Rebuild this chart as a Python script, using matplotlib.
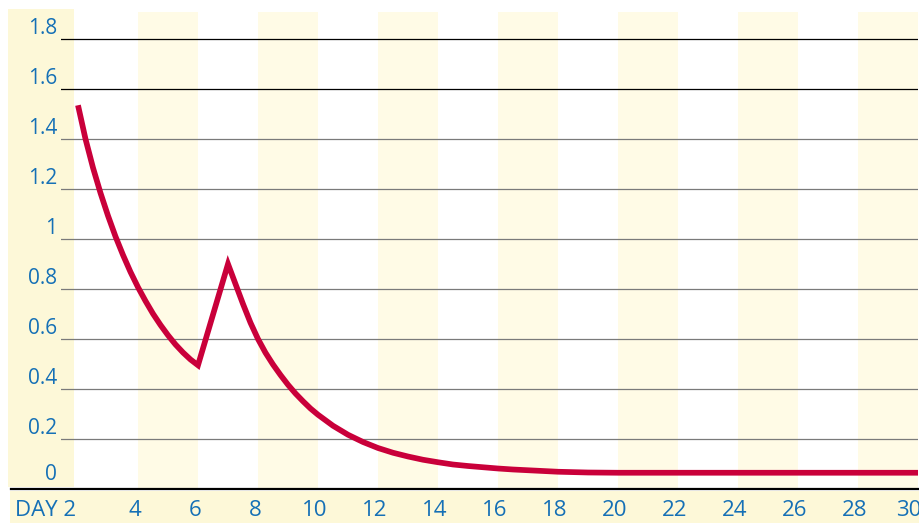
import matplotlib
matplotlib.use("Agg")
import matplotlib.pyplot as plt
from matplotlib.patches import Rectangle

# Dosage curve by day
days = [2, 2.25, 2.5, 2.75, 3, 3.25, 3.5, 3.75, 4, 4.25, 4.5, 4.75, 5, 5.25, 5.5, 5.75, 6,
        7, 7.25, 7.5, 7.75, 8, 8.25, 8.5, 8.75, 9, 9.25, 9.5, 9.75, 10, 10.5, 11, 11.5,
        12, 12.5, 13, 13.5, 14, 14.5, 15, 15.5, 16, 16.5, 17, 17.5, 18, 19, 20,
        22, 24, 26, 28, 30]
level = [1.535, 1.40, 1.285, 1.184, 1.093, 1.010, 0.936, 0.868, 0.807, 0.752, 0.701, 0.656,
         0.615, 0.578, 0.546, 0.518, 0.495,
         0.90, 0.82, 0.74, 0.665, 0.60, 0.545, 0.498, 0.456, 0.417, 0.382, 0.351, 0.322,
         0.297, 0.253, 0.217, 0.188,
         0.164, 0.145, 0.130, 0.117, 0.107, 0.098, 0.092, 0.087, 0.082, 0.078, 0.075,
         0.072, 0.069, 0.066, 0.065,
         0.065, 0.065, 0.065, 0.065, 0.065]

y_ticks = [0, 0.2, 0.4, 0.6, 0.8, 1.0, 1.2, 1.4, 1.6, 1.8]
y_labels = ["0", "0.2", "0.4", "0.6", "0.8", "1", "1.2", "1.4", "1.6", "1.8"]
x_ticks = [2, 4, 6, 8, 10, 12, 14, 16, 18, 20, 22, 24, 26, 28, 30]
x_labels = ["DAY 2"] + [str(d) for d in x_ticks[1:]]
shaded_days = [(4, 6), (8, 10), (12, 14), (16, 18), (20, 22), (24, 26), (28, 30)]

W, H = 920, 523
BAND = "#FFFBE6"
BAND_STRONG = "#FDF8D8"
BLUE = "#1570B6"
RED = "#C9003A"
FONT = "Open Sans"

fig = plt.figure(figsize=(W / 100, H / 100), dpi=100, facecolor="white")

# pale panels behind the tick labels
fig.add_artist(Rectangle((8 / W, (H - 487) / H), 66 / W, 478 / H,
                         transform=fig.transFigure, facecolor=BAND_STRONG,
                         edgecolor="none", zorder=-2))
fig.add_artist(Rectangle((10 / W, 0), 1 - 10 / W, (H - 491) / H,
                         transform=fig.transFigure, facecolor=BAND_STRONG,
                         edgecolor="none", zorder=-2))

ax = fig.add_axes([61 / W, (H - 489) / H, 857 / W, 477 / H])
ax.set_facecolor("none")
ax.set_xlim(2 - 17 / 30, 30)
ax.set_ylim(0, 477 / 250)

for a, b in shaded_days:
    ax.axvspan(a, b, facecolor=BAND, edgecolor="none", zorder=0)

for v in y_ticks[1:]:
    c = "black" if v >= 1.6 else "#7a7a7a"
    ax.axhline(v, color=c, lw=0.9, zorder=1)

# baseline running under the day labels
ax.plot([-50 / 857, 1 + 2 / 857], [0, 0], transform=ax.get_yaxis_transform(),
        color="black", lw=1.6, clip_on=False, zorder=3)

ax.plot(days, level, color=RED, lw=4.1, solid_joinstyle="miter",
        solid_capstyle="butt", zorder=4)

ax.set_xticks([])
ax.set_yticks([])
for s in ax.spines.values():
    s.set_visible(False)

for v, lab in zip(y_ticks, y_labels):
    dy = 14 if v == 0 else 10
    ax.annotate(lab, xy=(0, v), xycoords=ax.get_yaxis_transform(),
                xytext=(-4, dy), textcoords="offset pixels",
                ha="right", va="center", color=BLUE, fontsize=15,
                family=FONT, annotation_clip=False)

for i, (d, lab) in enumerate(zip(x_ticks, x_labels)):
    ha = "right" if lab.startswith("DAY") else "center"
    dx = -2 if ha == "right" else -3
    if i == len(x_ticks) - 1:
        dx = -9
    ax.annotate(lab, xy=(d, 0), xycoords=ax.get_xaxis_transform(),
                xytext=(dx, -22), textcoords="offset pixels",
                ha=ha, va="center", color=BLUE, fontsize=16,
                family=FONT, annotation_clip=False)

fig.savefig("out.png", dpi=100, facecolor="white")
